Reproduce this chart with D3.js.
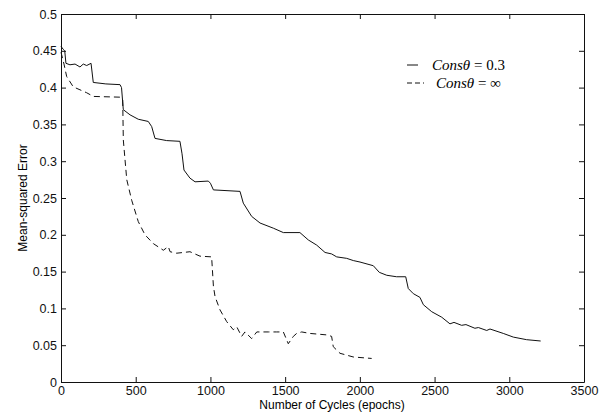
<!DOCTYPE html>
<html>
<head>
<meta charset="utf-8">
<script src="https://cdn.jsdelivr.net/npm/d3@7"></script>
<style>
  body { margin: 0; background: #fff; }
  svg { display: block; }
  .tick text { font-family: "Liberation Sans", Arial, sans-serif; font-size: 12.5px; fill: #111; }
</style>
</head>
<body>
<div id="display"></div>
<script>
// Consθ = 0.3 (solid)
const solidEpochs = [0, 15, 25, 33, 60, 94, 127, 149, 172, 201, 216, 300, 395, 405, 417, 462, 517, 584, 607, 629, 707, 796, 810, 823, 863, 897, 986, 1000, 1020, 1198, 1220, 1276, 1332, 1421, 1488, 1599, 1655, 1711, 1767, 1811, 1845, 1912, 1956, 2001, 2090, 2130, 2180, 2246, 2307, 2324, 2358, 2402, 2425, 2481, 2548, 2603, 2630, 2681, 2710, 2770, 2793, 2849, 2871, 2960, 3027, 3116, 3210]
const solidMSE = [0.456, 0.452, 0.45, 0.433, 0.431, 0.432, 0.428, 0.432, 0.430, 0.433, 0.407, 0.405, 0.404, 0.40, 0.370, 0.363, 0.357, 0.354, 0.347, 0.331, 0.328, 0.327, 0.31, 0.288, 0.277, 0.272, 0.273, 0.270, 0.261, 0.259, 0.243, 0.225, 0.216, 0.209, 0.203, 0.203, 0.193, 0.186, 0.176, 0.174, 0.170, 0.168, 0.165, 0.163, 0.158, 0.149, 0.145, 0.143, 0.143, 0.127, 0.120, 0.115, 0.105, 0.0955, 0.088, 0.079, 0.081, 0.077, 0.078, 0.073, 0.074, 0.070, 0.072, 0.066, 0.061, 0.0575, 0.0557]

// Consθ = ∞ (dashed)
const dashEpochs = [0, 20, 38, 82, 127, 172, 216, 395, 413, 417, 440, 473, 517, 562, 618, 663, 685, 718, 730, 774, 863, 930, 1008, 1020, 1031, 1064, 1109, 1153, 1176, 1209, 1231, 1276, 1310, 1388, 1443, 1488, 1521, 1555, 1577, 1611, 1666, 1778, 1811, 1822, 1867, 1956, 2079]
const dashMSE = [0.448, 0.432, 0.415, 0.401, 0.397, 0.393, 0.388, 0.387, 0.383, 0.329, 0.275, 0.247, 0.218, 0.200, 0.188, 0.182, 0.179, 0.184, 0.177, 0.175, 0.177, 0.171, 0.170, 0.130, 0.116, 0.098, 0.082, 0.071, 0.075, 0.062, 0.068, 0.059, 0.068, 0.068, 0.068, 0.068, 0.052, 0.062, 0.066, 0.068, 0.066, 0.064, 0.062, 0.048, 0.039, 0.034, 0.032]

const xTicks = [0, 500, 1000, 1500, 2000, 2500, 3000, 3500]
const yTicks = [0, 0.05, 0.1, 0.15, 0.2, 0.25, 0.3, 0.35, 0.4, 0.45, 0.5]

const margin = {top: 14, right: 30, bottom: 32, left: 61},
      width = 614 - margin.left - margin.right,
      height = 414 - margin.top - margin.bottom

const svg = d3.select('#display').append('svg')
    .attr('width', 614)
    .attr('height', 414)

const xScale = d3.scaleLinear()
    .domain([0, 3500])
    .range([margin.left, margin.left + width])
const yScale = d3.scaleLinear()
    .domain([0, 0.5])
    .range([margin.top + height, margin.top])

const fmt = d => d === 0 ? '0' : String(+d.toFixed(2))

// axes with inward ticks, all four sides
svg.append('g')
    .attr('transform', 'translate(0,' + (margin.top + height) + ')')
    .call(d3.axisBottom(xScale).tickValues(xTicks).tickSizeInner(-5).tickSizeOuter(0).tickPadding(4).tickFormat(fmt))
svg.append('g')
    .attr('transform', 'translate(0,' + margin.top + ')')
    .call(d3.axisTop(xScale).tickValues(xTicks).tickSizeInner(-5).tickSizeOuter(0).tickFormat(''))
svg.append('g')
    .attr('transform', 'translate(' + margin.left + ',0)')
    .call(d3.axisLeft(yScale).tickValues(yTicks).tickSizeInner(-5).tickSizeOuter(0).tickPadding(4).tickFormat(fmt))
svg.append('g')
    .attr('transform', 'translate(' + (margin.left + width) + ',0)')
    .call(d3.axisRight(yScale).tickValues(yTicks).tickSizeInner(-5).tickSizeOuter(0).tickFormat(''))

svg.selectAll('.domain').attr('stroke', '#111')
svg.selectAll('.tick line').attr('stroke', '#111')

// axis titles
svg.append('text')
    .attr('x', 332)
    .attr('y', 409)
    .attr('text-anchor', 'middle')
    .style('font-family', '"Liberation Sans", Arial, sans-serif')
    .style('font-size', '12px')
    .text('Number of Cycles (epochs)')

svg.append('text')
    .attr('transform', 'translate(27,' + (margin.top + height / 2) + ') rotate(-90)')
    .attr('text-anchor', 'middle')
    .style('font-family', '"Liberation Sans", Arial, sans-serif')
    .style('font-size', '12px')
    .text('Mean-squared Error')

// data lines
const line = d3.line()
    .x(d => xScale(d[0]))
    .y(d => yScale(d[1]))

const solidData = solidEpochs.map((e, i) => [e, solidMSE[i]])
const dashData = dashEpochs.map((e, i) => [e, dashMSE[i]])

svg.append('path')
    .datum(solidData)
    .attr('d', line)
    .attr('fill', 'none')
    .attr('stroke', '#111')
    .attr('stroke-width', 1)

svg.append('path')
    .datum(dashData)
    .attr('d', line)
    .attr('fill', 'none')
    .attr('stroke', '#111')
    .attr('stroke-width', 1)
    .attr('stroke-dasharray', '6,4')

// legend
const legend = [
    {label: '0.3', dash: null, y: 65},
    {label: '\u221E', dash: '5,3', y: 83}
]
legend.forEach(l => {
    svg.append('line')
        .attr('x1', 407).attr('x2', l.dash ? 424 : 418)
        .attr('y1', l.y).attr('y2', l.y)
        .attr('stroke', '#111')
        .attr('stroke-width', 1)
        .attr('stroke-dasharray', l.dash)
    const t = svg.append('text')
        .attr('x', l.dash ? 436 : 432)
        .attr('y', l.y + 5)
        .style('font-family', '"Liberation Serif", "Times New Roman", serif')
        .style('font-size', '15px')
    t.append('tspan').style('font-style', 'italic').text('Cons\u03B8')
    t.append('tspan').text(' = ' + l.label)
})
</script>
</body>
</html>
